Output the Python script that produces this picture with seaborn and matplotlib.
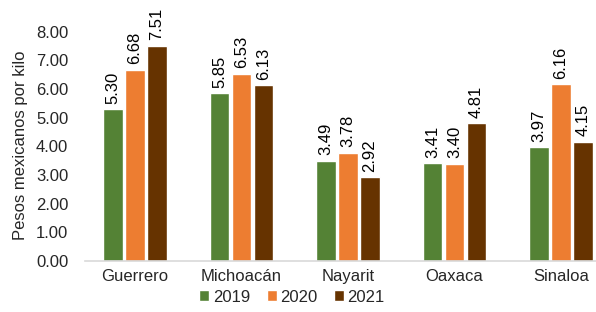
import matplotlib
matplotlib.use("Agg")
import matplotlib.pyplot as plt
import seaborn as sns
import pandas as pd

states = ["Guerrero", "Michoacán", "Nayarit", "Oaxaca", "Sinaloa"]
years = ["2019", "2020", "2021"]
v2019 = [5.30, 5.85, 3.49, 3.41, 3.97]
v2020 = [6.68, 6.53, 3.78, 3.40, 6.16]
v2021 = [7.51, 6.13, 2.92, 4.81, 4.15]
colors = ["#548235", "#ED7D31", "#663300"]

rows = []
for yr, vals in zip(years, [v2019, v2020, v2021]):
    for s, v in zip(states, vals):
        rows.append({"Estado": s, "Año": yr, "Precio": v})
df = pd.DataFrame(rows)

sns.set_theme(style="white")
plt.rcParams['font.family'] = ['Liberation Sans', 'DejaVu Sans']

fig = plt.figure(figsize=(5.96, 3.12), dpi=100)
W, H = 596, 312
ax = fig.add_axes([85 / W, 1 - 261 / H, (596 - 85) / W, (261 - 3) / H])

sns.barplot(data=df, x="Estado", y="Precio", hue="Año", palette=colors,
            width=0.62, gap=0.12, ax=ax, saturation=1, legend=True)

for cont in ax.containers:
    ax.bar_label(cont, labels=[f"{b.get_height():.2f}" for b in cont],
                 rotation=90, padding=4, fontsize=12, color="#000000")

ax.set_ylim(0, 9.0)
ax.set_xlim(-0.47, 4.33)
ax.set_yticks([0, 1, 2, 3, 4, 5, 6, 7, 8])
ax.set_yticklabels([f"{t:.2f}" for t in range(9)], fontsize=12)
ax.tick_params(axis='x', labelsize=12, length=0, pad=6)
ax.tick_params(axis='y', length=0, pad=12)
ax.set_xlabel("")
ax.set_ylabel("Pesos mexicanos por kilo", fontsize=12)
ax.yaxis.set_label_coords(-0.112, 0.45)
for sp in ["top", "right", "left"]:
    ax.spines[sp].set_visible(False)
ax.spines["bottom"].set_color("#d9d9d9")
ax.spines["bottom"].set_linewidth(1.2)

leg = ax.legend(loc="center", bbox_to_anchor=(292 / W, 1 - 297 / H),
                bbox_transform=fig.transFigure, ncol=3, frameon=False,
                fontsize=12, handlelength=0.6, handleheight=0.6,
                handletextpad=0.2, columnspacing=1.0, borderpad=0)

fig.savefig("out.png", dpi=100)
